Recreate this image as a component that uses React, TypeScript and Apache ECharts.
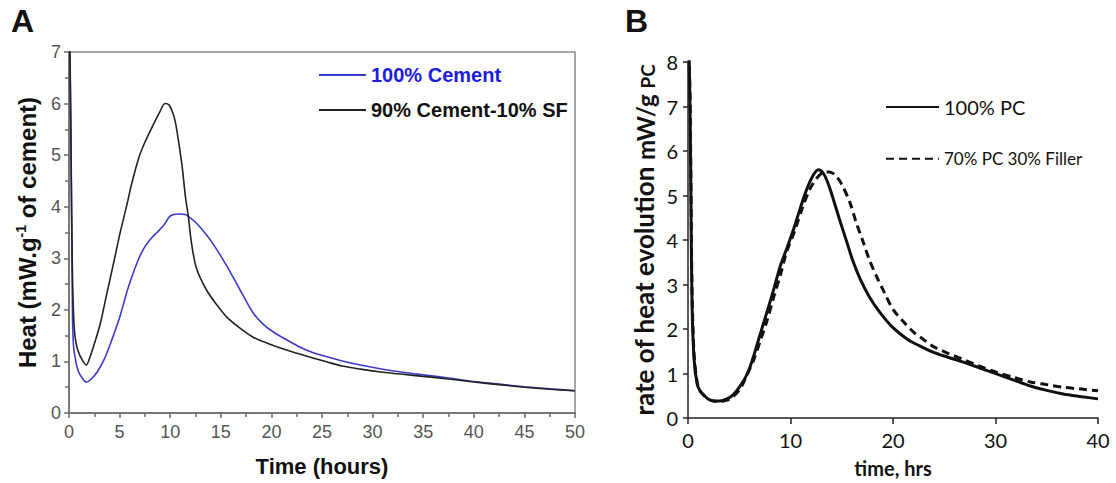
import React, { useEffect, useRef } from "react";
import * as echarts from "echarts";

// Panel A: 100% Cement (blue)
const tA1 = [0.05, 0.15, 0.25, 0.3, 0.35, 0.45, 0.6, 0.9, 1.3, 1.7, 2.2, 2.8, 3.5, 4.2, 5.0, 5.8, 6.6, 7.3, 8.0, 8.7, 9.4, 10.0, 10.8, 11.5, 12.0, 12.6, 13.4, 14.2, 15.2, 16.2, 17.2, 18.2, 19.2, 20.2, 21.5, 22.8, 24.0, 25.5, 27.0, 28.8, 31, 33, 35, 37.5, 40, 42.5, 45, 47.5, 50];
const vA1 = [7.6, 6.2, 4.2, 3.0, 1.8, 1.3, 1.08, 0.82, 0.68, 0.6, 0.66, 0.8, 1.05, 1.4, 1.85, 2.4, 2.85, 3.16, 3.36, 3.5, 3.65, 3.82, 3.86, 3.85, 3.78, 3.68, 3.5, 3.29, 2.98, 2.64, 2.28, 1.94, 1.72, 1.57, 1.42, 1.28, 1.18, 1.09, 1.01, 0.93, 0.85, 0.79, 0.74, 0.68, 0.61, 0.56, 0.51, 0.47, 0.43];
// Panel A: 90% Cement-10% SF (black)
const tA2 = [0.05, 0.15, 0.25, 0.35, 0.5, 0.7, 1.0, 1.4, 1.7, 2.1, 2.6, 3.1, 3.7, 4.4, 5.0, 5.7, 6.2, 6.9, 7.5, 8.3, 9.0, 9.5, 9.9, 10.2, 10.5, 10.8, 11.2, 11.5, 11.8, 12.1, 12.6, 13.6, 14.6, 15.6, 16.8, 18.2, 19.8, 21.5, 23.5, 25.5, 27, 28.8, 31, 33, 35, 37.5, 40, 42.5, 45, 47.5, 50];
const vA2 = [7.6, 6.0, 4.0, 2.6, 1.7, 1.35, 1.15, 1.0, 0.93, 1.1, 1.4, 1.74, 2.28, 2.9, 3.45, 4.02, 4.45, 4.95, 5.25, 5.58, 5.85, 6.0, 5.97, 5.85, 5.65, 5.3, 4.75, 4.2, 3.8, 3.3, 2.8, 2.38, 2.1, 1.86, 1.66, 1.47, 1.34, 1.22, 1.1, 0.99, 0.91, 0.85, 0.79, 0.75, 0.71, 0.66, 0.6, 0.55, 0.5, 0.46, 0.43];

// Panel B: 100% PC (solid)
const tB1 = [0.1, 0.2, 0.3, 0.4, 0.6, 0.9, 1.2, 1.6, 2.0, 2.5, 3.1, 3.8, 4.4, 5.1, 5.8, 6.4, 7.0, 7.7, 8.4, 9.0, 9.7, 10.3, 11.0, 11.6, 12.2, 12.7, 13.2, 13.7, 14.2, 14.8, 15.5, 16.1, 16.8, 17.7, 18.7, 20.0, 21.4, 22.6, 23.9, 25.3, 26.8, 28.4, 30.1, 31.8, 33.4, 35.0, 36.6, 38.4, 40.0];
const vB1 = [8.2, 7.0, 4.5, 2.5, 1.3, 0.76, 0.6, 0.5, 0.42, 0.38, 0.38, 0.43, 0.52, 0.72, 1.0, 1.39, 1.85, 2.38, 2.92, 3.41, 3.85, 4.24, 4.75, 5.15, 5.45, 5.58, 5.5, 5.25, 4.9, 4.45, 3.95, 3.52, 3.12, 2.72, 2.38, 2.03, 1.77, 1.62, 1.48, 1.37, 1.26, 1.13, 0.99, 0.85, 0.72, 0.62, 0.54, 0.48, 0.43];
// Panel B: 70% PC 30% Filler (dashed)
const tB2 = [0.1, 0.2, 0.3, 0.4, 0.6, 0.9, 1.2, 1.6, 2.0, 2.5, 3.1, 3.8, 4.4, 5.1, 5.7, 6.4, 7.0, 7.7, 8.3, 9.0, 9.6, 10.4, 11.2, 11.9, 12.6, 13.2, 13.8, 14.4, 15.0, 15.8, 16.4, 17.1, 17.7, 18.4, 19.2, 20.0, 21.0, 22.0, 23.0, 23.9, 25.3, 26.8, 28.4, 30.1, 31.8, 33.4, 35.0, 36.6, 38.4, 40.0];
const vB2 = [8.2, 7.2, 5.0, 2.8, 1.4, 0.8, 0.6, 0.5, 0.42, 0.38, 0.37, 0.4, 0.48, 0.66, 0.94, 1.3, 1.7, 2.18, 2.67, 3.2, 3.72, 4.2, 4.75, 5.15, 5.4, 5.52, 5.53, 5.45, 5.25, 4.84, 4.4, 3.95, 3.55, 3.18, 2.8, 2.44, 2.17, 1.93, 1.76, 1.61, 1.46, 1.32, 1.17, 1.03, 0.91, 0.81, 0.75, 0.69, 0.65, 0.61];

const namesA = ["100% Cement", "90% Cement-10% SF"];
const namesB = ["100% PC", "70% PC 30% Filler"];

const pairs = (t: number[], v: number[]) => t.map((x, i) => [x, v[i]]);

const ARIAL = "'Liberation Sans', Arial, sans-serif";
const CAL = "Lato, 'Open Sans', sans-serif";

export default function App() {
  const ref = useRef<HTMLDivElement>(null);
  useEffect(() => {
    if (!ref.current) return;
    const chart = echarts.init(ref.current, null, { renderer: "svg" });
    const grayAxis = { color: "#6a6a6a", width: 1.5 };
    chart.setOption({
      animation: false,
      backgroundColor: "#ffffff",
      title: [
        { text: "A", left: 6, top: 0, textStyle: { fontSize: 32, fontWeight: "bold", fontFamily: ARIAL, color: "#111" } },
        { text: "B", left: 620, top: 0, textStyle: { fontSize: 32, fontWeight: "bold", fontFamily: ARIAL, color: "#111" } },
      ],
      legend: [
        {
          orient: "vertical", left: 313, top: 60, itemWidth: 47, itemHeight: 22, itemGap: 15,
          selectedMode: false,
          itemStyle: { opacity: 0 },
          textStyle: { fontSize: 20, fontWeight: "bold", fontFamily: ARIAL, color: "#111" },
          data: [
            { name: namesA[0], textStyle: { color: "#1c1ce0" } },
            { name: namesA[1], textStyle: { color: "#111" } },
          ],
        },
        {
          orient: "vertical", left: 880, top: 92, itemWidth: 53, itemHeight: 22, itemGap: 33,
          selectedMode: false,
          itemStyle: { opacity: 0 },
          textStyle: { fontFamily: CAL, color: "#111" },
          data: [
            { name: namesB[0], textStyle: { fontSize: 20 } },
            { name: namesB[1], textStyle: { fontSize: 17 } },
          ],
        },
      ],
      grid: [
        { left: 69, top: 52, width: 506, height: 361, show: true, borderColor: "#8a8a8a", borderWidth: 1.5 },
        { left: 688, top: 62, width: 410, height: 357 },
      ],
      xAxis: [
        {
          type: "value", gridIndex: 0, min: 0, max: 50, interval: 5,
          axisLine: { show: true, lineStyle: grayAxis },
          axisTick: { show: true, length: 5, lineStyle: grayAxis },
          minorTick: { show: true, splitNumber: 2, length: 4, lineStyle: grayAxis },
          splitLine: { show: false },
          axisLabel: { color: "#555", fontSize: 18, fontFamily: ARIAL, margin: 10 },
          name: "Time (hours)", nameLocation: "middle", nameGap: 42,
          nameTextStyle: { fontSize: 22, fontWeight: "bold", fontFamily: ARIAL, color: "#111" },
        },
        {
          type: "value", gridIndex: 1, min: 0, max: 40, interval: 10,
          axisLine: { show: true, lineStyle: { color: "#222", width: 1.5 } },
          axisTick: { show: true, length: 6, lineStyle: { color: "#222", width: 1.5 } },
          splitLine: { show: false },
          axisLabel: { color: "#111", fontSize: 20, fontFamily: CAL, margin: 12 },
          name: "time, hrs", nameLocation: "middle", nameGap: 40,
          nameTextStyle: { fontSize: 20, fontWeight: "bold", fontFamily: CAL, color: "#111" },
        },
      ],
      yAxis: [
        {
          type: "value", gridIndex: 0, min: 0, max: 7, interval: 1,
          axisLine: { show: true, lineStyle: grayAxis },
          axisTick: { show: true, length: 5, lineStyle: grayAxis },
          minorTick: { show: true, splitNumber: 2, length: 4, lineStyle: grayAxis },
          splitLine: { show: false },
          axisLabel: { color: "#555", fontSize: 18, fontFamily: ARIAL, margin: 8 },
          name: "{a|Heat (mW.g}{s|-1}{a| of cement)}",
          nameLocation: "middle", nameRotate: 90, nameGap: 29,
          nameTextStyle: {
            rich: {
              a: { fontSize: 24, fontWeight: "bold", fontFamily: ARIAL, color: "#111", lineHeight: 26 },
              s: { fontSize: 14, fontWeight: "bold", fontFamily: ARIAL, color: "#111", verticalAlign: "top", lineHeight: 26 },
            },
          },
        },
        {
          type: "value", gridIndex: 1, min: 0, max: 8, interval: 1,
          axisLine: { show: true, lineStyle: { color: "#222", width: 1.5 } },
          axisTick: { show: true, length: 5, lineStyle: { color: "#222", width: 1.5 } },
          splitLine: { show: false },
          axisLabel: { color: "#111", fontSize: 20, fontFamily: CAL, margin: 10 },
          name: "{a|rate of heat evolution }{b|mW/g }{c|PC}",
          nameLocation: "middle", nameRotate: 90, nameGap: 31,
          nameTextStyle: {
            rich: {
              a: { fontSize: 26, fontWeight: "bold", fontFamily: CAL, color: "#111", lineHeight: 28, verticalAlign: "bottom" },
              b: { fontSize: 24, fontWeight: "bold", fontFamily: CAL, color: "#111", lineHeight: 28, verticalAlign: "bottom" },
              c: { fontSize: 19, fontWeight: "bold", fontFamily: CAL, color: "#111", lineHeight: 28, verticalAlign: "bottom" },
            },
          },
        },
      ],
      series: [
        {
          name: namesA[0], type: "line", xAxisIndex: 0, yAxisIndex: 0, data: pairs(tA1, vA1),
          symbol: "none", smooth: 0.3, lineStyle: { color: "#3b3bd2", width: 1.6 }, itemStyle: { color: "#3b3bd2" },
        },
        {
          name: namesA[1], type: "line", xAxisIndex: 0, yAxisIndex: 0, data: pairs(tA2, vA2),
          symbol: "none", smooth: 0.3, lineStyle: { color: "#222", width: 1.6 }, itemStyle: { color: "#222" },
        },
        {
          name: namesB[0], type: "line", xAxisIndex: 1, yAxisIndex: 1, data: pairs(tB1, vB1),
          symbol: "none", smooth: 0.3, lineStyle: { color: "#111", width: 3 }, itemStyle: { color: "#111" },
        },
        {
          name: namesB[1], type: "line", xAxisIndex: 1, yAxisIndex: 1, data: pairs(tB2, vB2),
          symbol: "none", smooth: 0.3, lineStyle: { color: "#111", width: 3, type: [8, 5] }, itemStyle: { color: "#111" },
        },
      ],
    });
    return () => chart.dispose();
  }, []);
  return (
    <div
      ref={ref}
      style={{ position: "fixed", left: 0, top: 0, width: 1116, height: 483, background: "#fff" }}
    />
  );
}
